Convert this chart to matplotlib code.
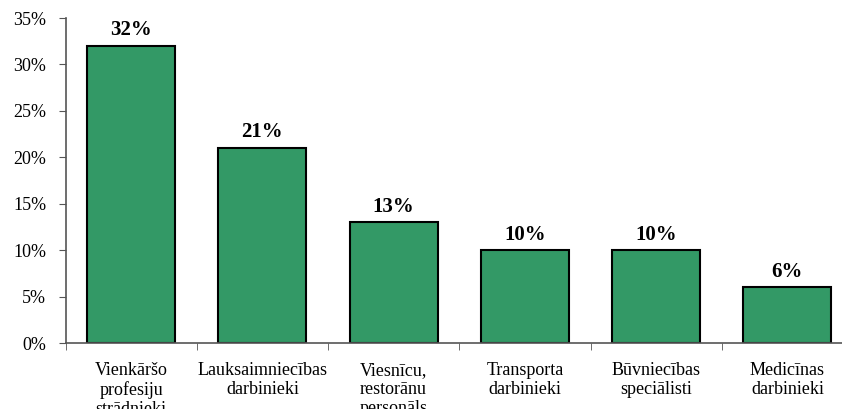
import matplotlib.pyplot as plt
import numpy as np

categories = ["Vienkāršo\nprofesiju\nstrādnieki", "Lauksaimniecības\ndarbinieki",
              "Viesnīcu,\nrestorānu\npersonāls", "Transporta\ndarbinieki",
              "Būvniecības\nspeciālisti", "Medicīnas\ndarbinieki"]
shares = [32, 21, 13, 10, 10, 6]
yticks = [0, 5, 10, 15, 20, 25, 30, 35]

plt.rcParams['font.family'] = ['Liberation Serif', 'DejaVu Serif']

fig = plt.figure(figsize=(8.42, 4.09), dpi=100)
ax = fig.add_axes([65.5/842, 66/409, (853-65.5)/842, (343-18)/409])

x = np.arange(len(shares))
bars = ax.bar(x, shares, width=0.67, color='#339966', edgecolor='black', linewidth=1.5)
for b, v in zip(bars, shares):
    ax.text(b.get_x() + b.get_width()/2, v + 0.6, f"{v}%", ha='center', va='bottom',
            fontsize=15, fontweight='bold')

ax.set_xlim(-0.5, len(shares) - 0.5)
ax.set_ylim(0, 35)
ax.set_yticks(yticks)
ax.set_yticklabels([f"{t}%" for t in yticks], fontsize=13)
ax.set_xticks(x)
ax.set_xticklabels(categories, fontsize=13, linespacing=1.12)
ax.set_xticks(np.arange(len(shares) + 1) - 0.5, minor=True)
ax.tick_params(axis='x', which='major', length=0, pad=14)
ax.tick_params(axis='x', which='minor', length=5, color='#555555')
ax.tick_params(axis='y', length=5, color='#555555', pad=9)

for s in ['top', 'right']:
    ax.spines[s].set_visible(False)
for s in ['left', 'bottom']:
    ax.spines[s].set_color('#555555')
    ax.spines[s].set_linewidth(1.2)

fig.savefig('out.png', dpi=100)
